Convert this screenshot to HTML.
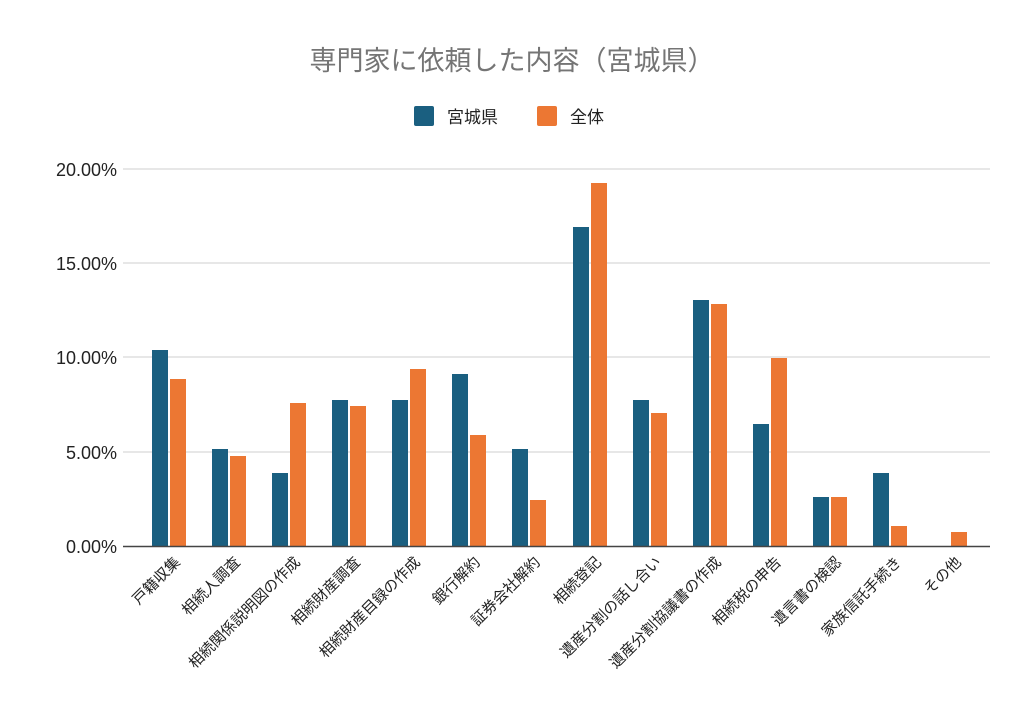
<!DOCTYPE html>
<html><head><meta charset="utf-8"><style>body{margin:0;background:#fff}svg{display:block}</style></head><body>
<svg width="1024" height="705" xmlns="http://www.w3.org/2000/svg" font-family="Liberation Sans, Noto Sans CJK JP, sans-serif">
<text x="512" y="70" text-anchor="middle" font-size="27" fill="#757575">専門家に依頼した内容（宮城県）</text>
<rect x="414" y="106" width="20" height="20" rx="2" fill="#1a5f80"/>
<text x="447" y="123" font-size="17" fill="#222">宮城県</text>
<rect x="537" y="106" width="20" height="20" rx="2" fill="#ec7733"/>
<text x="570" y="123" font-size="17" fill="#222">全体</text>
<g stroke="#cfcfcf" stroke-width="1">
<line x1="123" y1="169" x2="990" y2="169"/><line x1="123" y1="263" x2="990" y2="263"/><line x1="123" y1="357" x2="990" y2="357"/><line x1="123" y1="452" x2="990" y2="452"/>
</g>
<g font-size="18" fill="#222" text-anchor="end">
<text x="117" y="176">20.00%</text><text x="117" y="270">15.00%</text><text x="117" y="364">10.00%</text><text x="117" y="459">5.00%</text><text x="117" y="553">0.00%</text>
</g>
<g fill="#1a5f80">
<rect x="152" y="350" width="16" height="196"/>
<rect x="212" y="449" width="16" height="97"/>
<rect x="272" y="473" width="16" height="73"/>
<rect x="332" y="400" width="16" height="146"/>
<rect x="392" y="400" width="16" height="146"/>
<rect x="452" y="374" width="16" height="172"/>
<rect x="512" y="449" width="16" height="97"/>
<rect x="573" y="227" width="16" height="319"/>
<rect x="633" y="400" width="16" height="146"/>
<rect x="693" y="300" width="16" height="246"/>
<rect x="753" y="424" width="16" height="122"/>
<rect x="813" y="497" width="16" height="49"/>
<rect x="873" y="473" width="16" height="73"/>
</g>
<g fill="#ec7733">
<rect x="170" y="379" width="16" height="167"/>
<rect x="230" y="456" width="16" height="90"/>
<rect x="290" y="403" width="16" height="143"/>
<rect x="350" y="406" width="16" height="140"/>
<rect x="410" y="369" width="16" height="177"/>
<rect x="470" y="435" width="16" height="111"/>
<rect x="530" y="500" width="16" height="46"/>
<rect x="591" y="183" width="16" height="363"/>
<rect x="651" y="413" width="16" height="133"/>
<rect x="711" y="304" width="16" height="242"/>
<rect x="771" y="358" width="16" height="188"/>
<rect x="831" y="497" width="16" height="49"/>
<rect x="891" y="526" width="16" height="20"/>
<rect x="951" y="532" width="16" height="14"/>
</g>
<line x1="123" y1="546.5" x2="990" y2="546.5" stroke="#444" stroke-width="1.5"/>
<g font-size="15" fill="#222" text-anchor="end">
<text x="181" y="563" transform="rotate(-45 181 563)">戸籍収集</text>
<text x="241" y="563" transform="rotate(-45 241 563)">相続人調査</text>
<text x="301" y="563" transform="rotate(-45 301 563)">相続関係説明図の作成</text>
<text x="361" y="563" transform="rotate(-45 361 563)">相続財産調査</text>
<text x="421" y="563" transform="rotate(-45 421 563)">相続財産目録の作成</text>
<text x="481" y="563" transform="rotate(-45 481 563)">銀行解約</text>
<text x="541" y="563" transform="rotate(-45 541 563)">証券会社解約</text>
<text x="602" y="563" transform="rotate(-45 602 563)">相続登記</text>
<text x="662" y="563" transform="rotate(-45 662 563)">遺産分割の話し合い</text>
<text x="722" y="563" transform="rotate(-45 722 563)">遺産分割協議書の作成</text>
<text x="782" y="563" transform="rotate(-45 782 563)">相続税の申告</text>
<text x="842" y="563" transform="rotate(-45 842 563)">遺言書の検認</text>
<text x="902" y="563" transform="rotate(-45 902 563)">家族信託手続き</text>
<text x="962" y="563" transform="rotate(-45 962 563)">その他</text>
</g>
</svg>
</body></html>
